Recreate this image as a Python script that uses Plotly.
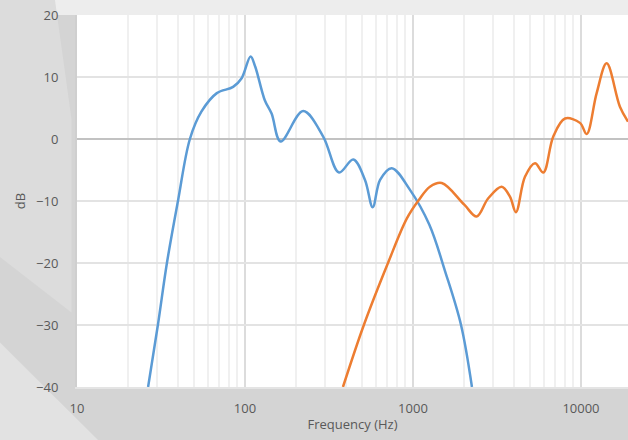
import plotly.graph_objects as go

# Woofer (blue) response
woofer_freq = [26.5, 30.3, 34.3, 39.9, 47, 55, 68, 85, 95.5, 108, 115, 131, 144, 163, 222,
               292, 363, 441, 518, 576, 637, 747, 960, 1250, 1560, 1932, 2244]
woofer_db = [-40, -30, -20, -10, 0, 4.4, 7.4, 8.4, 9.8, 13.3, 11.7, 6.3, 4.1, -0.4, 4.5,
             0.4, -5.4, -3.3, -6.6, -11, -6.6, -4.7, -8.2, -13.8, -21.5, -30, -40]

# Tweeter (orange) response
tweeter_freq = [383, 510, 710, 920, 1086, 1262, 1483, 2020, 2394, 2800, 3373, 3778, 4101, 4641,
                5325, 5970, 6843, 8035, 9865, 10810, 12400, 14220, 17060, 19050]
tweeter_db = [-40, -30, -20, -12.8, -9.8, -7.7, -7.1, -10.6, -12.5, -9.6, -7.7, -9.3, -11.8, -6.1,
              -3.9, -5.4, 0.4, 3.3, 2.6, 0.8, 7.4, 12.2, 5.2, 2.8]

x_major = [10, 100, 1000, 10000]
x_minor = [m * d for d in [10, 100, 1000, 10000] for m in range(2, 10)]
y_ticks = [-40, -30, -20, -10, 0, 10, 20]

fig = go.Figure()
fig.add_trace(go.Scatter(x=woofer_freq, y=woofer_db, mode="lines",
                         line=dict(color="#5b9bd5", width=2.5, shape="spline", smoothing=1.0),
                         showlegend=False, hoverinfo="skip"))
fig.add_trace(go.Scatter(x=tweeter_freq, y=tweeter_db, mode="lines",
                         line=dict(color="#ed7d31", width=2.5, shape="spline", smoothing=1.0),
                         showlegend=False, hoverinfo="skip"))

# background texture approximation
fig.add_shape(type="rect", xref="paper", yref="paper", x0=-1, x1=1.2, y0=1, y1=1.2,
              fillcolor="#ededed", line_width=0, layer="below")
fig.add_shape(type="path", xref="paper", yref="paper",
              path="M -0.14,1.04 L -0.04,1.04 L -0.01,0.72 L -0.01,0.2 L -0.14,0.35 Z",
              fillcolor="#dcdcdc", line_width=0, layer="below")
fig.add_shape(type="path", xref="paper", yref="paper",
              path="M -0.14,0.12 L 0.05,-0.16 L -0.14,-0.16 Z",
              fillcolor="#e2e2e2", line_width=0, layer="below")

fig.update_layout(
    width=628, height=440,
    margin=dict(l=77, r=0, t=15, b=53, autoexpand=False),
    paper_bgcolor="#d4d4d4",
    plot_bgcolor="#ffffff",
    font=dict(family="Open Sans", size=13, color="#595959"),
    xaxis=dict(type="log", range=[1, 4.28], tickvals=x_major, ticktext=[str(v) for v in x_major],
               showgrid=True, gridcolor="#dcdcdc", gridwidth=1.5,
               minor=dict(tickvals=x_minor, showgrid=True, gridcolor="#f0f0f0", gridwidth=1.5, ticks=""),
               ticks="outside", ticklen=8, tickcolor="rgba(0,0,0,0)",
               showline=True, linecolor="#e4e4e4", linewidth=2, automargin=False,
               title=dict(text="Frequency (Hz)", standoff=4, font=dict(size=13)),
               zeroline=False),
    yaxis=dict(range=[-40, 20], tickvals=y_ticks, showgrid=True, gridcolor="#e3e3e3", gridwidth=1.5,
               zeroline=True, zerolinecolor="#c2c2c2", zerolinewidth=2,
               ticks="outside", ticklen=14, tickcolor="rgba(0,0,0,0)",
               showline=True, linecolor="#cfcfcf", linewidth=2, automargin=False,
               title=dict(text="dB", standoff=8, font=dict(size=13))),
)

fig.write_html("out.html", config={"displayModeBar": False},
               post_script="document.body.style.margin='0';document.body.style.overflow='hidden';")
